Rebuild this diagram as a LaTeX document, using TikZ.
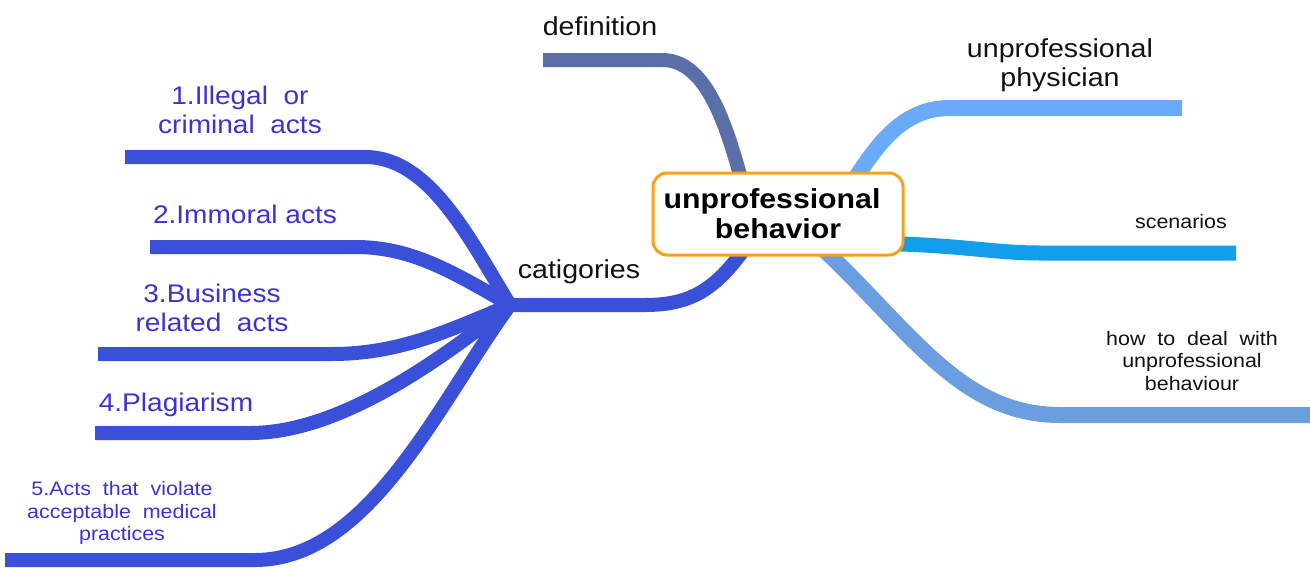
\documentclass[tikz,border=0pt]{standalone}
\usepackage{fontspec}
\setmainfont[FakeStretch=1.1]{Liberation Sans}
\definecolor{defc}{HTML}{5A6EA8}
\definecolor{catc}{HTML}{3A50D8}
\definecolor{labc}{HTML}{3A33D0}
\definecolor{physc}{HTML}{6AABF8}
\definecolor{scenc}{HTML}{129EE8}
\definecolor{dealc}{HTML}{6A9EE0}
\definecolor{orangec}{HTML}{F8A21A}
\definecolor{txtc}{HTML}{111111}
\begin{document}
\begin{tikzpicture}[x=1pt,y=-1pt,
  branch/.style={line width=14pt},
  biglab/.style={inner sep=0pt, align=center, text=txtc, font=\fontsize{26}{29}\selectfont},
  catlab/.style={inner sep=0pt, align=center, text=labc, font=\fontsize{25.5}{29}\selectfont},
  smalllab/.style={inner sep=0pt, align=center, font=\fontsize{19.5}{22.5}\selectfont},
  rootbox/.style={draw=orangec, line width=3pt, fill=white, rounded corners=14pt,
    minimum width=250pt, minimum height=82pt, inner sep=0pt, align=center,
    text=black, font=\fontsize{27.5}{30}\selectfont\bfseries}]
\useasboundingbox (0,0) rectangle (1310,568);
% named coordinates
\coordinate (defA) at (742,182);
\coordinate (defJ) at (662,60);
\coordinate (defE) at (543,60);
\coordinate (catA) at (745,248);
\coordinate (catJ) at (645,305);
\coordinate (hub) at (510,305);
\coordinate (c1J) at (365,157); \coordinate (c1E) at (125,157);
\coordinate (c2J) at (355,247); \coordinate (c2E) at (150,247);
\coordinate (c3J) at (332,354); \coordinate (c3E) at (98,354);
\coordinate (c4J) at (250,433); \coordinate (c4E) at (95,433);
\coordinate (c5J) at (255,560); \coordinate (c5E) at (5,560);
\coordinate (phA) at (853,182); \coordinate (phJ) at (950,108); \coordinate (phE) at (1182,108);
\coordinate (scA) at (860,243); \coordinate (scJ) at (1040,253); \coordinate (scE) at (1236,253);
\coordinate (dlA) at (820,246); \coordinate (dlJ) at (1060,415); \coordinate (dlE) at (1310,415);
% connectors
\draw[branch, defc] (defA) .. controls (725,120) and (705,60) .. (defJ) -- (defE);
\draw[branch, catc] (catA) .. controls (715,290) and (690,305) .. (catJ) -- (hub);
\draw[branch, catc] (hub) .. controls (470,240) and (430,157) .. (c1J) -- (c1E);
\draw[branch, catc] (hub) .. controls (450,270) and (410,247) .. (c2J) -- (c2E);
\draw[branch, catc] (hub) .. controls (450,330) and (400,354) .. (c3J) -- (c3E);
\draw[branch, catc] (hub) .. controls (440,360) and (340,433) .. (c4J) -- (c4E);
\draw[branch, catc] (hub) .. controls (440,400) and (370,560) .. (c5J) -- (c5E);
\draw[branch, physc, line width=16pt] (phA) .. controls (880,140) and (905,108) .. (phJ) -- (phE);
\draw[branch, scenc, line width=15pt] (scA) .. controls (960,244) and (990,253) .. (scJ) -- (scE);
\draw[branch, dealc, line width=16pt] (dlA) .. controls (910,330) and (960,415) .. (dlJ) -- (dlE);
% root
\node[rootbox] (root) at (778,214) {\hspace*{-12pt}unprofessional\\behavior};
% labels
\node[biglab] (def) at (600,26) {definition};
\node[biglab] (phys) at (1060,65) {unprofessional\\physician};
\node[biglab] (cat) at (579,272) {catigories};
\node[smalllab, text=txtc] (scen) at (1181,222) {scenarios};
\node[smalllab, text=txtc] (deal) at (1192,361) {how~~to~~deal~~with\\unprofessional\\behaviour};
\node[catlab] (l1) at (240,110) {1.Illegal~~or\\criminal~~acts};
\node[catlab] (l2) at (245,214) {2.Immoral acts};
\node[catlab] (l3) at (212,308) {3.Business\\related~~acts};
\node[catlab] (l4) at (176,405) {4.Plagiarism};
\node[smalllab, text=labc] (l5) at (122,513) {5.Acts~~that~~violate\\acceptable~~medical\\practices};
\end{tikzpicture}
\end{document}
